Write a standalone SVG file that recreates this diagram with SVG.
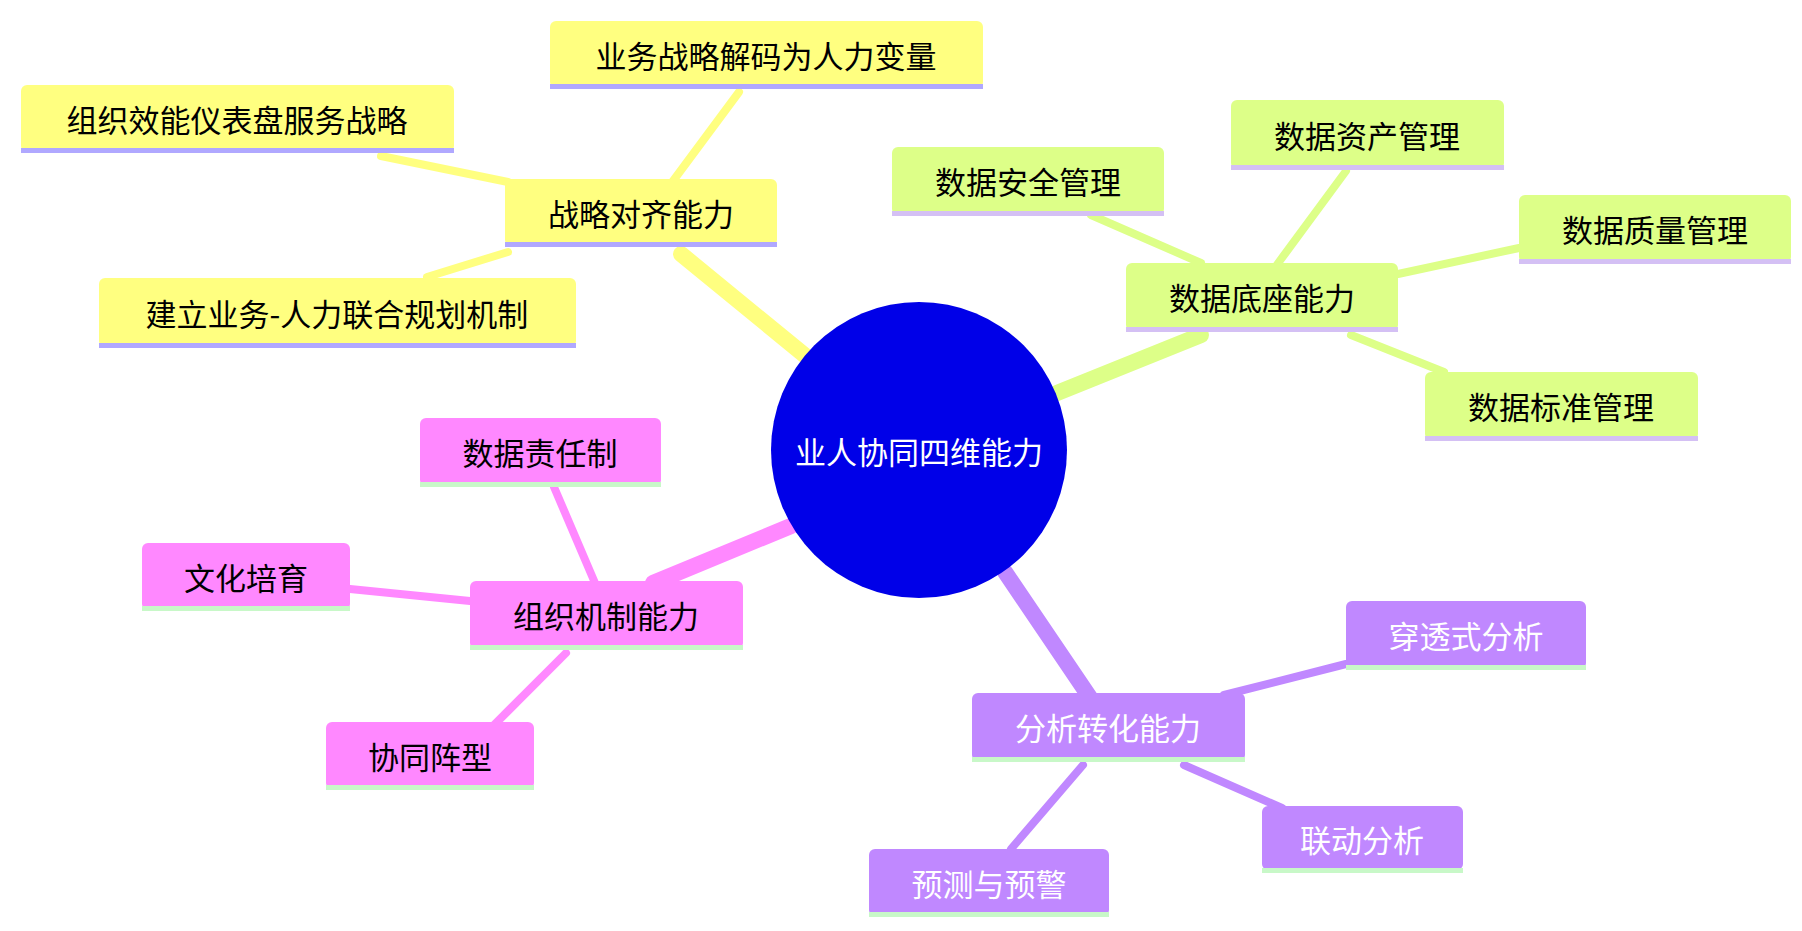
<svg xmlns="http://www.w3.org/2000/svg" width="1802" height="931" viewBox="0 0 1802 931">
<style>
text{font-family:"Noto Sans CJK SC","Noto Sans",sans-serif;font-size:31px;text-anchor:middle;dominant-baseline:central}
.y{fill:#ffff80}.g{fill:#ddff88}.p{fill:#ff88ff}.v{fill:#c088ff}
.sy{fill:#b0a8ff}.sg{fill:#d4c0f4}.sp{fill:#c8f8c8}
.w{fill:#fff}
</style>
<rect width="1802" height="931" fill="#fff"/>
<g id="connectors" stroke-linecap="round">
<g stroke="#ffff80"><line x1="808" y1="358" x2="681" y2="254" stroke-width="16"/><line x1="739" y1="92" x2="670" y2="185" stroke-width="8"/><line x1="381" y1="156" x2="508" y2="182" stroke-width="8"/><line x1="427" y1="277" x2="508" y2="252" stroke-width="8"/></g>
<g stroke="#ddff88"><line x1="1057" y1="393" x2="1201" y2="335" stroke-width="16"/><line x1="1346" y1="171" x2="1276" y2="266" stroke-width="8"/><line x1="1091" y1="215" x2="1201" y2="263" stroke-width="8"/><line x1="1519" y1="248" x2="1398" y2="274" stroke-width="8"/><line x1="1444" y1="372" x2="1351" y2="335" stroke-width="8"/></g>
<g stroke="#ff88ff"><line x1="791" y1="526" x2="653" y2="583" stroke-width="16"/><line x1="554" y1="487" x2="595" y2="583" stroke-width="8"/><line x1="350" y1="589" x2="470" y2="601" stroke-width="8"/><line x1="468" y1="751" x2="566" y2="653" stroke-width="8"/></g>
<g stroke="#c088ff"><line x1="1005" y1="572" x2="1091" y2="699" stroke-width="16"/><line x1="1346" y1="664" x2="1224" y2="695" stroke-width="8"/><line x1="1282" y1="808" x2="1184" y2="765" stroke-width="8"/><line x1="1011" y1="849" x2="1083" y2="765" stroke-width="8"/></g>
</g>
<g id="center"><circle cx="919" cy="450" r="148" fill="#0000e8"/><text x="919" y="450" class="w">业人协同四维能力</text></g>
<g id="n1"><rect x="505" y="179" width="272" height="67" rx="6" class="y"/><rect x="505" y="242" width="272" height="5" class="sy"/><text x="641" y="212">战略对齐能力</text></g>
<g id="n1a"><rect x="550" y="21" width="433" height="67" rx="6" class="y"/><rect x="550" y="84" width="433" height="5" class="sy"/><text x="766" y="54">业务战略解码为人力变量</text></g>
<g id="n1b"><rect x="21" y="85" width="433" height="67" rx="6" class="y"/><rect x="21" y="148" width="433" height="5" class="sy"/><text x="237" y="118">组织效能仪表盘服务战略</text></g>
<g id="n1c"><rect x="99" y="278" width="477" height="69" rx="6" class="y"/><rect x="99" y="343" width="477" height="5" class="sy"/><text x="337" y="312">建立业务-人力联合规划机制</text></g>
<g id="n2"><rect x="1126" y="263" width="272" height="68" rx="6" class="g"/><rect x="1126" y="327" width="272" height="5" class="sg"/><text x="1262" y="296">数据底座能力</text></g>
<g id="n2a"><rect x="1231" y="100" width="273" height="69" rx="6" class="g"/><rect x="1231" y="165" width="273" height="5" class="sg"/><text x="1367" y="134">数据资产管理</text></g>
<g id="n2b"><rect x="892" y="147" width="272" height="68" rx="6" class="g"/><rect x="892" y="211" width="272" height="5" class="sg"/><text x="1028" y="180">数据安全管理</text></g>
<g id="n2c"><rect x="1519" y="195" width="272" height="68" rx="6" class="g"/><rect x="1519" y="259" width="272" height="5" class="sg"/><text x="1655" y="228">数据质量管理</text></g>
<g id="n2d"><rect x="1425" y="372" width="273" height="68" rx="6" class="g"/><rect x="1425" y="436" width="273" height="5" class="sg"/><text x="1561" y="405">数据标准管理</text></g>
<g id="n3"><rect x="470" y="581" width="273" height="68" rx="6" class="p"/><rect x="470" y="645" width="273" height="5" class="sp"/><text x="606" y="614">组织机制能力</text></g>
<g id="n3a"><rect x="420" y="418" width="241" height="68" rx="6" class="p"/><rect x="420" y="482" width="241" height="5" class="sp"/><text x="540" y="451">数据责任制</text></g>
<g id="n3b"><rect x="142" y="543" width="208" height="67" rx="6" class="p"/><rect x="142" y="606" width="208" height="5" class="sp"/><text x="246" y="576">文化培育</text></g>
<g id="n3c"><rect x="326" y="722" width="208" height="67" rx="6" class="p"/><rect x="326" y="785" width="208" height="5" class="sp"/><text x="430" y="755">协同阵型</text></g>
<g id="n4"><rect x="972" y="693" width="273" height="68" rx="6" class="v"/><rect x="972" y="757" width="273" height="5" class="sp"/><text x="1108" y="726" class="w">分析转化能力</text></g>
<g id="n4a"><rect x="1346" y="601" width="240" height="68" rx="6" class="v"/><rect x="1346" y="665" width="240" height="5" class="sp"/><text x="1466" y="634" class="w">穿透式分析</text></g>
<g id="n4b"><rect x="1262" y="806" width="201" height="64" rx="6" class="v"/><rect x="1262" y="868" width="201" height="5" class="sp"/><text x="1362" y="838" class="w">联动分析</text></g>
<g id="n4c"><rect x="869" y="849" width="240" height="67" rx="6" class="v"/><rect x="869" y="912" width="240" height="5" class="sp"/><text x="989" y="882" class="w">预测与预警</text></g>
</svg>
